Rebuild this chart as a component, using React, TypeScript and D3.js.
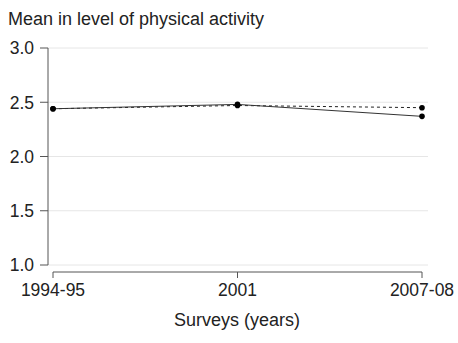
import React from "react";
import * as d3 from "d3";

// Survey periods and mean physical activity level for two series
const surveys = ["1994-95", "2001", "2007-08"];
const solidSeries = [2.44, 2.48, 2.37];
const dashedSeries = [2.44, 2.47, 2.45];
const yTicks = [1.0, 1.5, 2.0, 2.5, 3.0];

const W = 458;
const H = 343;
const FONT = "'Liberation Sans', Arial, sans-serif";

export default function App() {
  const x = d3.scalePoint<string>().domain(surveys).range([53, 422]);
  const y = d3.scaleLinear().domain([1, 3]).range([265, 48]);
  const axisX = 48;
  const axisY = 272;

  const line = d3
    .line<number>()
    .x((_, i) => x(surveys[i]) as number)
    .y((d) => y(d));

  return (
    <svg
      width={W}
      height={H}
      style={{ position: "absolute", left: 0, top: 0, background: "#fff" }}
      fontFamily={FONT}
    >
      {/* gridlines */}
      {yTicks.map((t) => (
        <line key={"g" + t} x1={axisX} x2={428} y1={y(t)} y2={y(t)} stroke="#e6e6e6" strokeWidth={1} />
      ))}
      {/* y axis */}
      <line x1={axisX} x2={axisX} y1={y(3)} y2={y(1)} stroke="#555" strokeWidth={1} />
      {yTicks.map((t) => (
        <g key={"y" + t}>
          <line x1={axisX - 8} x2={axisX} y1={y(t)} y2={y(t)} stroke="#555" strokeWidth={1} />
          <text x={34} y={y(t)} dy="0.36em" textAnchor="end" fontSize={17.5} fill="#222">
            {d3.format(".1f")(t)}
          </text>
        </g>
      ))}
      {/* x axis */}
      <line x1={x(surveys[0])} x2={x(surveys[2])} y1={axisY} y2={axisY} stroke="#555" strokeWidth={1} />
      {surveys.map((s) => (
        <g key={s}>
          <line x1={x(s)} x2={x(s)} y1={axisY} y2={axisY + 6} stroke="#555" strokeWidth={1} />
          <text x={x(s)} y={296} textAnchor="middle" fontSize={17.5} fill="#222">
            {s}
          </text>
        </g>
      ))}
      <text x={237} y={326} textAnchor="middle" fontSize={18} fill="#222">
        Surveys (years)
      </text>
      <text x={8} y={25} fontSize={18} fill="#222">
        Mean in level of physical activity
      </text>
      {/* series */}
      <path d={line(dashedSeries) || ""} fill="none" stroke="#222" strokeWidth={1} strokeDasharray="3,3" />
      <path d={line(solidSeries) || ""} fill="none" stroke="#333" strokeWidth={1} />
      {[dashedSeries, solidSeries].map((series, k) =>
        series.map((v, i) => (
          <circle key={k + "-" + i} cx={x(surveys[i])} cy={y(v)} r={2.8} fill="#000" />
        ))
      )}
    </svg>
  );
}
